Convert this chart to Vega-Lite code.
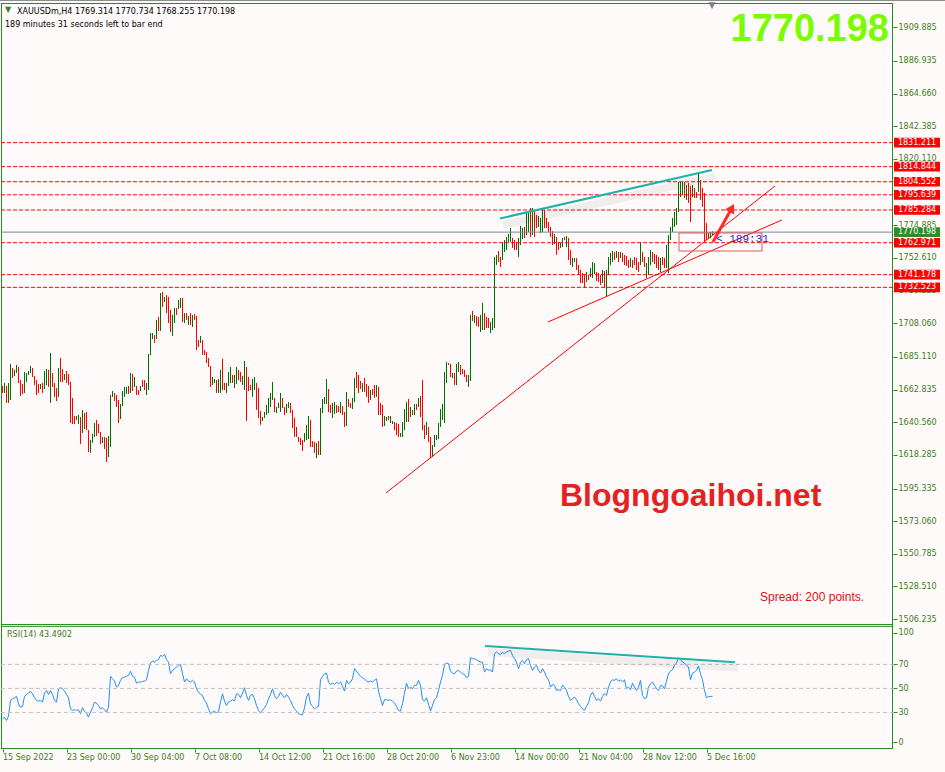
{
"$schema": "https://vega.github.io/schema/vega-lite/v6.json",
"width": 892,
"height": 746,
"autosize": {"type": "none"},
"padding": {"left": 1, "top": 3, "right": 52, "bottom": 23},
"background": "#fffafa",
"config": {"view": {"stroke": null}},
"datasets": {
"bars": [
{"i":1,"h":1665.3,"l":1660.5,"d":"d","r":24.7},
{"i":2,"h":1667.3,"l":1660.5,"d":"u","r":26},
{"i":3,"h":1665.3,"l":1653.7,"d":"d","r":23.3},
{"i":4,"h":1667.3,"l":1653.7,"d":"u","r":27},
{"i":5,"h":1680.3,"l":1655.7,"d":"u","r":40},
{"i":6,"h":1677.5,"l":1670.7,"d":"d","r":41.4},
{"i":7,"h":1676.2,"l":1672.1,"d":"u","r":42.2},
{"i":8,"h":1679.6,"l":1674.1,"d":"u","r":43.3},
{"i":9,"h":1678.2,"l":1667.3,"d":"d","r":37.2},
{"i":10,"h":1669.3,"l":1658.4,"d":"d","r":34.4},
{"i":11,"h":1666.6,"l":1659.8,"d":"d","r":35},
{"i":12,"h":1674.8,"l":1660.5,"d":"u","r":43.3},
{"i":13,"h":1674.1,"l":1668.0,"d":"u","r":45},
{"i":14,"h":1675.5,"l":1672.8,"d":"u","r":46.1},
{"i":15,"h":1678.9,"l":1674.1,"d":"u","r":47.5},
{"i":16,"h":1677.5,"l":1671.4,"d":"d","r":45.6},
{"i":17,"h":1672.1,"l":1665.9,"d":"d","r":42.2},
{"i":18,"h":1669.3,"l":1659.1,"d":"d","r":40},
{"i":19,"h":1666.6,"l":1660.5,"d":"d","r":39.4},
{"i":20,"h":1666.6,"l":1663.2,"d":"u","r":40},
{"i":21,"h":1667.3,"l":1660.5,"d":"d","r":38.6},
{"i":22,"h":1675.5,"l":1663.2,"d":"u","r":46.1},
{"i":23,"h":1676.8,"l":1665.9,"d":"u","r":48.3},
{"i":24,"h":1676.2,"l":1664.6,"d":"d","r":45},
{"i":25,"h":1687.8,"l":1653.7,"d":"u","r":48.3},
{"i":26,"h":1674.1,"l":1664.6,"d":"d","r":45},
{"i":27,"h":1667.3,"l":1657.8,"d":"d","r":40},
{"i":28,"h":1663.9,"l":1655.0,"d":"d","r":38.6},
{"i":29,"h":1677.5,"l":1657.8,"d":"u","r":49.7},
{"i":30,"h":1684.3,"l":1668.0,"d":"d","r":50.6},
{"i":31,"h":1676.8,"l":1668.0,"d":"d","r":49.7},
{"i":32,"h":1673.4,"l":1669.3,"d":"u","r":47.8},
{"i":33,"h":1675.5,"l":1667.3,"d":"d","r":45},
{"i":34,"h":1673.4,"l":1665.9,"d":"d","r":42.2},
{"i":35,"h":1668.0,"l":1640.0,"d":"d","r":33},
{"i":36,"h":1657.1,"l":1639.3,"d":"d","r":31.7},
{"i":37,"h":1644.8,"l":1639.3,"d":"d","r":32.2},
{"i":38,"h":1644.8,"l":1642.1,"d":"u","r":31.7},
{"i":39,"h":1645.5,"l":1639.3,"d":"u","r":32.2},
{"i":40,"h":1644.1,"l":1625.7,"d":"d","r":28.9},
{"i":41,"h":1648.9,"l":1633.2,"d":"u","r":33.9},
{"i":42,"h":1646.8,"l":1635.9,"d":"d","r":31.1},
{"i":43,"h":1647.5,"l":1635.2,"d":"d","r":29.4},
{"i":44,"h":1635.2,"l":1620.2,"d":"d","r":26.1},
{"i":45,"h":1628.4,"l":1619.6,"d":"u","r":30.3},
{"i":46,"h":1632.5,"l":1626.4,"d":"u","r":33.9},
{"i":47,"h":1640.0,"l":1630.5,"d":"u","r":38.6},
{"i":48,"h":1642.1,"l":1631.2,"d":"d","r":37.8},
{"i":49,"h":1639.3,"l":1633.2,"d":"d","r":35.8},
{"i":50,"h":1633.9,"l":1625.7,"d":"d","r":33},
{"i":51,"h":1630.5,"l":1626.4,"d":"u","r":33.9},
{"i":52,"h":1630.5,"l":1622.3,"d":"d","r":32.2},
{"i":53,"h":1629.8,"l":1613.4,"d":"d","r":30.3},
{"i":54,"h":1631.2,"l":1616.8,"d":"u","r":34.4},
{"i":55,"h":1659.1,"l":1623.6,"d":"u","r":60},
{"i":56,"h":1661.8,"l":1657.8,"d":"u","r":58},
{"i":57,"h":1660.5,"l":1655.0,"d":"d","r":56.1},
{"i":58,"h":1659.1,"l":1650.9,"d":"d","r":51.1},
{"i":59,"h":1655.7,"l":1640.0,"d":"d","r":52.5},
{"i":60,"h":1653.0,"l":1642.7,"d":"u","r":56.7},
{"i":61,"h":1661.8,"l":1651.6,"d":"u","r":58.9},
{"i":62,"h":1664.6,"l":1657.8,"d":"u","r":59.4},
{"i":63,"h":1664.6,"l":1659.8,"d":"u","r":60},
{"i":64,"h":1665.3,"l":1659.8,"d":"d","r":60.8},
{"i":65,"h":1674.1,"l":1660.5,"d":"u","r":64.4},
{"i":66,"h":1673.4,"l":1661.8,"d":"d","r":60},
{"i":67,"h":1671.4,"l":1664.6,"d":"u","r":59.4},
{"i":68,"h":1665.3,"l":1659.1,"d":"d","r":54.4},
{"i":69,"h":1662.5,"l":1659.1,"d":"d","r":55.3},
{"i":70,"h":1665.3,"l":1661.8,"d":"u","r":55.3},
{"i":71,"h":1669.3,"l":1664.6,"d":"d","r":55.8},
{"i":72,"h":1669.3,"l":1662.5,"d":"d","r":56.1},
{"i":73,"h":1667.3,"l":1659.1,"d":"u","r":57.2},
{"i":74,"h":1687.1,"l":1662.5,"d":"u","r":65},
{"i":75,"h":1701.4,"l":1686.4,"d":"u","r":71.1},
{"i":76,"h":1701.4,"l":1697.3,"d":"u","r":72.8},
{"i":77,"h":1700.0,"l":1694.6,"d":"d","r":71.9},
{"i":78,"h":1710.3,"l":1697.3,"d":"u","r":73.3},
{"i":79,"h":1712.3,"l":1702.8,"d":"d","r":73.9},
{"i":80,"h":1728.7,"l":1702.8,"d":"u","r":77.5},
{"i":81,"h":1729.4,"l":1719.1,"d":"d","r":76.7},
{"i":82,"h":1726.0,"l":1722.5,"d":"u","r":78.3},
{"i":83,"h":1727.3,"l":1715.0,"d":"d","r":73.9},
{"i":84,"h":1726.0,"l":1708.2,"d":"d","r":71.9},
{"i":85,"h":1717.1,"l":1702.1,"d":"d","r":62.2},
{"i":86,"h":1713.7,"l":1699.4,"d":"u","r":65},
{"i":87,"h":1718.4,"l":1708.2,"d":"u","r":66.4},
{"i":88,"h":1718.4,"l":1713.7,"d":"d","r":67.8},
{"i":89,"h":1723.9,"l":1717.8,"d":"u","r":69.2},
{"i":90,"h":1725.3,"l":1718.4,"d":"u","r":70},
{"i":91,"h":1725.3,"l":1708.9,"d":"d","r":62.2},
{"i":92,"h":1715.0,"l":1708.2,"d":"u","r":55.3},
{"i":93,"h":1715.0,"l":1710.3,"d":"d","r":58},
{"i":94,"h":1713.0,"l":1706.9,"d":"u","r":56.1},
{"i":95,"h":1715.0,"l":1706.9,"d":"d","r":55.3},
{"i":96,"h":1713.7,"l":1705.5,"d":"u","r":56.7},
{"i":97,"h":1714.3,"l":1710.3,"d":"d","r":55.3},
{"i":98,"h":1713.0,"l":1689.8,"d":"d","r":49.7},
{"i":99,"h":1696.6,"l":1691.9,"d":"d","r":46.9},
{"i":100,"h":1699.4,"l":1694.6,"d":"u","r":45},
{"i":101,"h":1696.6,"l":1686.4,"d":"d","r":44.2},
{"i":102,"h":1689.8,"l":1686.4,"d":"d","r":40},
{"i":103,"h":1688.4,"l":1680.9,"d":"d","r":37.8},
{"i":104,"h":1684.3,"l":1678.2,"d":"d","r":33},
{"i":105,"h":1678.9,"l":1664.6,"d":"d","r":28.9},
{"i":106,"h":1671.4,"l":1665.9,"d":"u","r":30.3},
{"i":107,"h":1670.0,"l":1667.3,"d":"u","r":31.1},
{"i":108,"h":1669.3,"l":1660.5,"d":"d","r":29.4},
{"i":109,"h":1670.0,"l":1660.5,"d":"u","r":31.1},
{"i":110,"h":1676.2,"l":1660.5,"d":"u","r":38.6},
{"i":111,"h":1683.7,"l":1662.5,"d":"d","r":45.6},
{"i":112,"h":1667.3,"l":1662.5,"d":"d","r":39.4},
{"i":113,"h":1667.3,"l":1660.5,"d":"u","r":35.8},
{"i":114,"h":1674.8,"l":1665.3,"d":"u","r":38.6},
{"i":115,"h":1678.2,"l":1667.3,"d":"u","r":39.4},
{"i":116,"h":1672.8,"l":1667.3,"d":"d","r":40.6},
{"i":117,"h":1672.8,"l":1663.9,"d":"u","r":39.4},
{"i":118,"h":1678.2,"l":1666.6,"d":"u","r":45.6},
{"i":119,"h":1676.2,"l":1669.3,"d":"d","r":45},
{"i":120,"h":1674.8,"l":1668.0,"d":"d","r":42.2},
{"i":121,"h":1672.1,"l":1665.9,"d":"u","r":46.1},
{"i":122,"h":1682.3,"l":1662.5,"d":"u","r":50.6},
{"i":123,"h":1678.2,"l":1641.4,"d":"d","r":44.2},
{"i":124,"h":1671.4,"l":1661.8,"d":"d","r":40},
{"i":125,"h":1665.9,"l":1662.5,"d":"d","r":44.2},
{"i":126,"h":1670.0,"l":1657.8,"d":"u","r":45},
{"i":127,"h":1671.4,"l":1662.5,"d":"u","r":41.4},
{"i":128,"h":1667.3,"l":1648.9,"d":"d","r":35.8},
{"i":129,"h":1663.9,"l":1643.4,"d":"d","r":31.7},
{"i":130,"h":1648.2,"l":1638.7,"d":"d","r":29.4},
{"i":131,"h":1644.1,"l":1641.4,"d":"u","r":31.7},
{"i":132,"h":1647.5,"l":1643.4,"d":"u","r":33.9},
{"i":133,"h":1652.3,"l":1645.5,"d":"u","r":36.7},
{"i":134,"h":1657.1,"l":1646.8,"d":"u","r":41.4},
{"i":135,"h":1660.5,"l":1650.9,"d":"u","r":45},
{"i":136,"h":1668.0,"l":1655.7,"d":"u","r":49.7},
{"i":137,"h":1657.1,"l":1647.5,"d":"d","r":44.2},
{"i":138,"h":1650.9,"l":1646.8,"d":"u","r":41.4},
{"i":139,"h":1653.7,"l":1650.2,"d":"u","r":43.3},
{"i":140,"h":1660.5,"l":1647.5,"d":"u","r":46.9},
{"i":141,"h":1657.1,"l":1650.2,"d":"d","r":44.2},
{"i":142,"h":1650.9,"l":1645.5,"d":"d","r":42.2},
{"i":143,"h":1653.0,"l":1646.8,"d":"u","r":45},
{"i":144,"h":1654.3,"l":1650.2,"d":"u","r":42.8},
{"i":145,"h":1653.7,"l":1646.8,"d":"d","r":40},
{"i":146,"h":1648.9,"l":1636.6,"d":"d","r":35.8},
{"i":147,"h":1643.4,"l":1630.5,"d":"d","r":33},
{"i":148,"h":1637.3,"l":1630.5,"d":"d","r":31.1},
{"i":149,"h":1630.5,"l":1627.1,"d":"d","r":28.9},
{"i":150,"h":1629.8,"l":1625.0,"d":"d","r":28.3},
{"i":151,"h":1628.4,"l":1620.9,"d":"d","r":28},
{"i":152,"h":1633.2,"l":1627.1,"d":"u","r":33.9},
{"i":153,"h":1638.7,"l":1628.4,"d":"u","r":42.8},
{"i":154,"h":1644.8,"l":1629.1,"d":"u","r":46.1},
{"i":155,"h":1642.1,"l":1623.6,"d":"d","r":37.2},
{"i":156,"h":1627.7,"l":1623.6,"d":"d","r":35},
{"i":157,"h":1627.1,"l":1619.6,"d":"d","r":33},
{"i":158,"h":1626.4,"l":1616.1,"d":"u","r":34.4},
{"i":159,"h":1627.7,"l":1618.2,"d":"d","r":35},
{"i":160,"h":1650.2,"l":1618.2,"d":"u","r":57.2},
{"i":161,"h":1656.4,"l":1646.8,"d":"u","r":60},
{"i":162,"h":1657.8,"l":1653.0,"d":"u","r":62.2},
{"i":163,"h":1670.0,"l":1653.0,"d":"u","r":62.8},
{"i":164,"h":1663.2,"l":1647.5,"d":"d","r":55.3},
{"i":165,"h":1652.3,"l":1646.8,"d":"d","r":53.3},
{"i":166,"h":1653.7,"l":1643.4,"d":"u","r":54.4},
{"i":167,"h":1654.3,"l":1646.2,"d":"u","r":53.3},
{"i":168,"h":1652.3,"l":1646.8,"d":"d","r":55.3},
{"i":169,"h":1651.6,"l":1647.5,"d":"d","r":53.9},
{"i":170,"h":1654.3,"l":1646.8,"d":"u","r":55.3},
{"i":171,"h":1651.6,"l":1645.5,"d":"d","r":51.7},
{"i":172,"h":1647.5,"l":1637.3,"d":"d","r":47.8},
{"i":173,"h":1661.2,"l":1638.0,"d":"u","r":56.7},
{"i":174,"h":1656.4,"l":1650.9,"d":"d","r":53.9},
{"i":175,"h":1653.7,"l":1650.2,"d":"d","r":55.3},
{"i":176,"h":1657.1,"l":1649.6,"d":"u","r":58},
{"i":177,"h":1670.7,"l":1654.3,"d":"u","r":66.4},
{"i":178,"h":1674.8,"l":1663.9,"d":"d","r":64.4},
{"i":179,"h":1672.8,"l":1660.5,"d":"d","r":62.2},
{"i":180,"h":1668.7,"l":1663.2,"d":"d","r":60},
{"i":181,"h":1667.3,"l":1661.2,"d":"u","r":58.9},
{"i":182,"h":1670.7,"l":1661.2,"d":"d","r":58},
{"i":183,"h":1666.6,"l":1657.8,"d":"d","r":56.1},
{"i":184,"h":1665.3,"l":1653.7,"d":"d","r":55.3},
{"i":185,"h":1662.5,"l":1655.7,"d":"u","r":56.1},
{"i":186,"h":1663.2,"l":1659.1,"d":"d","r":55.3},
{"i":187,"h":1665.9,"l":1657.1,"d":"d","r":56.7},
{"i":188,"h":1665.9,"l":1657.8,"d":"u","r":58},
{"i":189,"h":1664.6,"l":1645.5,"d":"d","r":47.8},
{"i":190,"h":1653.7,"l":1645.5,"d":"d","r":41.4},
{"i":191,"h":1652.3,"l":1637.3,"d":"d","r":35.8},
{"i":192,"h":1644.8,"l":1638.0,"d":"u","r":40.6},
{"i":193,"h":1644.1,"l":1641.4,"d":"u","r":40.6},
{"i":194,"h":1644.8,"l":1642.1,"d":"d","r":40},
{"i":195,"h":1644.8,"l":1640.0,"d":"u","r":40.6},
{"i":196,"h":1641.4,"l":1639.3,"d":"u","r":39.4},
{"i":197,"h":1640.7,"l":1635.2,"d":"d","r":37.8},
{"i":198,"h":1640.0,"l":1631.8,"d":"d","r":35},
{"i":199,"h":1639.3,"l":1630.5,"d":"d","r":31.7},
{"i":200,"h":1633.2,"l":1630.5,"d":"u","r":31.1},
{"i":201,"h":1640.7,"l":1630.5,"d":"u","r":37.2},
{"i":202,"h":1649.6,"l":1635.2,"d":"u","r":46.1},
{"i":203,"h":1654.3,"l":1640.7,"d":"u","r":54.4},
{"i":204,"h":1656.4,"l":1640.7,"d":"d","r":49.7},
{"i":205,"h":1650.9,"l":1644.1,"d":"u","r":51.1},
{"i":206,"h":1648.9,"l":1645.5,"d":"d","r":49.7},
{"i":207,"h":1653.0,"l":1645.5,"d":"u","r":52.5},
{"i":208,"h":1653.0,"l":1648.9,"d":"d","r":52.5},
{"i":209,"h":1657.1,"l":1650.9,"d":"u","r":56.7},
{"i":210,"h":1658.4,"l":1644.1,"d":"d","r":52.5},
{"i":211,"h":1669.3,"l":1635.2,"d":"d","r":40.6},
{"i":212,"h":1638.7,"l":1629.1,"d":"d","r":39.4},
{"i":213,"h":1640.7,"l":1631.8,"d":"u","r":42.2},
{"i":214,"h":1637.3,"l":1627.1,"d":"d","r":36.7},
{"i":215,"h":1630.5,"l":1616.1,"d":"d","r":31.1},
{"i":216,"h":1625.0,"l":1616.8,"d":"u","r":35.8},
{"i":217,"h":1631.8,"l":1623.6,"d":"u","r":40.6},
{"i":218,"h":1631.8,"l":1628.4,"d":"u","r":42.2},
{"i":219,"h":1640.0,"l":1629.1,"d":"u","r":48.3},
{"i":220,"h":1649.6,"l":1637.3,"d":"u","r":55.3},
{"i":221,"h":1653.0,"l":1642.1,"d":"u","r":60.8},
{"i":222,"h":1674.8,"l":1640.0,"d":"u","r":70},
{"i":223,"h":1681.6,"l":1667.3,"d":"u","r":71.1},
{"i":224,"h":1680.9,"l":1679.6,"d":"u","r":70.6},
{"i":225,"h":1680.3,"l":1671.4,"d":"d","r":64.4},
{"i":226,"h":1674.1,"l":1670.7,"d":"u","r":62.8},
{"i":227,"h":1674.1,"l":1665.9,"d":"d","r":62.2},
{"i":228,"h":1680.3,"l":1665.9,"d":"u","r":64.4},
{"i":229,"h":1681.6,"l":1674.8,"d":"u","r":65},
{"i":230,"h":1679.6,"l":1672.8,"d":"d","r":63.6},
{"i":231,"h":1676.8,"l":1673.4,"d":"d","r":62.2},
{"i":232,"h":1676.2,"l":1671.4,"d":"d","r":61.7},
{"i":233,"h":1672.8,"l":1668.0,"d":"d","r":58.9},
{"i":234,"h":1672.8,"l":1664.6,"d":"u","r":60},
{"i":235,"h":1713.7,"l":1668.7,"d":"u","r":75.6},
{"i":236,"h":1716.4,"l":1709.6,"d":"d","r":74.7},
{"i":237,"h":1713.7,"l":1708.2,"d":"u","r":74.7},
{"i":238,"h":1713.0,"l":1706.2,"d":"d","r":73.9},
{"i":239,"h":1712.3,"l":1705.5,"d":"d","r":72.8},
{"i":240,"h":1713.7,"l":1702.1,"d":"u","r":71.9},
{"i":241,"h":1721.9,"l":1703.4,"d":"u","r":71.9},
{"i":242,"h":1715.0,"l":1703.4,"d":"d","r":63.6},
{"i":243,"h":1712.3,"l":1704.8,"d":"d","r":66.4},
{"i":244,"h":1711.6,"l":1704.8,"d":"d","r":65},
{"i":245,"h":1708.9,"l":1701.4,"d":"u","r":65.6},
{"i":246,"h":1711.6,"l":1703.4,"d":"u","r":63.6},
{"i":247,"h":1753.2,"l":1704.8,"d":"u","r":78.9},
{"i":248,"h":1754.6,"l":1747.8,"d":"u","r":80.3},
{"i":249,"h":1757.3,"l":1749.8,"d":"d","r":78.9},
{"i":250,"h":1753.2,"l":1746.4,"d":"d","r":78.1},
{"i":251,"h":1763.5,"l":1751.2,"d":"u","r":80},
{"i":252,"h":1764.8,"l":1756.6,"d":"u","r":78.9},
{"i":253,"h":1766.9,"l":1758.0,"d":"u","r":80.3},
{"i":254,"h":1768.9,"l":1763.5,"d":"u","r":81.1},
{"i":255,"h":1773.0,"l":1763.5,"d":"u","r":81.7},
{"i":256,"h":1766.2,"l":1759.4,"d":"d","r":77.5},
{"i":257,"h":1764.8,"l":1758.0,"d":"d","r":74.7},
{"i":258,"h":1763.5,"l":1758.0,"d":"d","r":71.9},
{"i":259,"h":1766.2,"l":1753.2,"d":"u","r":66.4},
{"i":260,"h":1774.4,"l":1761.4,"d":"u","r":71.9},
{"i":261,"h":1773.0,"l":1765.5,"d":"u","r":73.3},
{"i":262,"h":1773.7,"l":1766.2,"d":"d","r":70.6},
{"i":263,"h":1783.9,"l":1768.2,"d":"u","r":73.9},
{"i":264,"h":1783.9,"l":1770.3,"d":"u","r":74.7},
{"i":265,"h":1786.6,"l":1766.9,"d":"d","r":69.2},
{"i":266,"h":1786.6,"l":1768.2,"d":"u","r":65},
{"i":267,"h":1784.6,"l":1766.9,"d":"d","r":67.8},
{"i":268,"h":1781.9,"l":1773.0,"d":"d","r":69.2},
{"i":269,"h":1781.2,"l":1773.7,"d":"u","r":65},
{"i":270,"h":1779.8,"l":1769.6,"d":"u","r":62.8},
{"i":271,"h":1786.0,"l":1770.3,"d":"u","r":66.4},
{"i":272,"h":1785.3,"l":1773.0,"d":"d","r":63.6},
{"i":273,"h":1779.8,"l":1773.0,"d":"d","r":59.4},
{"i":274,"h":1777.1,"l":1770.3,"d":"d","r":57.2},
{"i":275,"h":1773.7,"l":1766.9,"d":"d","r":51.1},
{"i":276,"h":1770.9,"l":1761.4,"d":"d","r":53.3},
{"i":277,"h":1768.9,"l":1762.1,"d":"u","r":52.5},
{"i":278,"h":1766.9,"l":1754.6,"d":"d","r":48.3},
{"i":279,"h":1763.5,"l":1758.0,"d":"d","r":48.9},
{"i":280,"h":1762.8,"l":1759.4,"d":"u","r":48.3},
{"i":281,"h":1766.2,"l":1760.0,"d":"u","r":52.5},
{"i":282,"h":1766.9,"l":1764.8,"d":"d","r":51.1},
{"i":283,"h":1767.5,"l":1760.0,"d":"u","r":48.3},
{"i":284,"h":1766.2,"l":1751.2,"d":"d","r":43.3},
{"i":285,"h":1758.0,"l":1747.8,"d":"d","r":40},
{"i":286,"h":1752.5,"l":1746.4,"d":"u","r":41.4},
{"i":287,"h":1752.5,"l":1749.8,"d":"u","r":42.8},
{"i":288,"h":1752.5,"l":1744.4,"d":"d","r":40.6},
{"i":289,"h":1747.8,"l":1741.0,"d":"d","r":37.2},
{"i":290,"h":1744.4,"l":1735.5,"d":"d","r":35},
{"i":291,"h":1742.3,"l":1735.5,"d":"d","r":33},
{"i":292,"h":1741.0,"l":1732.1,"d":"d","r":31.7},
{"i":293,"h":1743.0,"l":1736.2,"d":"u","r":35},
{"i":294,"h":1741.0,"l":1737.5,"d":"d","r":38},
{"i":295,"h":1745.7,"l":1739.6,"d":"u","r":44.2},
{"i":296,"h":1749.8,"l":1738.9,"d":"u","r":46.9},
{"i":297,"h":1749.1,"l":1741.6,"d":"u","r":43.3},
{"i":298,"h":1743.0,"l":1736.9,"d":"d","r":40},
{"i":299,"h":1742.3,"l":1736.2,"d":"d","r":41.4},
{"i":300,"h":1741.0,"l":1734.1,"d":"d","r":39.4},
{"i":301,"h":1744.4,"l":1735.5,"d":"u","r":43.3},
{"i":302,"h":1743.7,"l":1732.1,"d":"d","r":45.6},
{"i":303,"h":1744.4,"l":1726.0,"d":"u","r":44.2},
{"i":304,"h":1753.2,"l":1741.0,"d":"u","r":51.1},
{"i":305,"h":1756.0,"l":1747.8,"d":"u","r":55.3},
{"i":306,"h":1757.3,"l":1749.8,"d":"u","r":57.2},
{"i":307,"h":1756.6,"l":1751.2,"d":"d","r":56.7},
{"i":308,"h":1757.3,"l":1752.5,"d":"u","r":58},
{"i":309,"h":1756.6,"l":1749.8,"d":"d","r":56.1},
{"i":310,"h":1756.6,"l":1752.5,"d":"u","r":57.2},
{"i":311,"h":1756.0,"l":1749.8,"d":"d","r":55.3},
{"i":312,"h":1754.6,"l":1747.8,"d":"d","r":57.2},
{"i":313,"h":1753.9,"l":1747.1,"d":"d","r":49.7},
{"i":314,"h":1751.2,"l":1745.7,"d":"d","r":51.1},
{"i":315,"h":1752.5,"l":1746.4,"d":"u","r":48.9},
{"i":316,"h":1751.2,"l":1745.7,"d":"d","r":54.4},
{"i":317,"h":1753.2,"l":1747.8,"d":"d","r":51.1},
{"i":318,"h":1752.5,"l":1744.4,"d":"d","r":48.3},
{"i":319,"h":1749.8,"l":1743.0,"d":"d","r":51.1},
{"i":320,"h":1763.5,"l":1747.8,"d":"u","r":56.7},
{"i":321,"h":1756.6,"l":1749.8,"d":"d","r":44.2},
{"i":322,"h":1753.2,"l":1746.4,"d":"d","r":41.4},
{"i":323,"h":1749.1,"l":1738.9,"d":"u","r":42.2},
{"i":324,"h":1753.2,"l":1741.0,"d":"u","r":51.1},
{"i":325,"h":1758.0,"l":1747.8,"d":"u","r":53.9},
{"i":326,"h":1756.6,"l":1749.8,"d":"d","r":55.3},
{"i":327,"h":1755.3,"l":1748.5,"d":"d","r":52.5},
{"i":328,"h":1754.6,"l":1745.7,"d":"d","r":49.7},
{"i":329,"h":1753.2,"l":1744.4,"d":"d","r":48.3},
{"i":330,"h":1752.5,"l":1743.0,"d":"u","r":52.5},
{"i":331,"h":1753.2,"l":1747.8,"d":"d","r":52},
{"i":332,"h":1752.5,"l":1745.7,"d":"d","r":49.7},
{"i":333,"h":1761.4,"l":1745.7,"d":"u","r":56},
{"i":334,"h":1768.2,"l":1742.3,"d":"u","r":62.2},
{"i":335,"h":1773.7,"l":1764.8,"d":"u","r":64.4},
{"i":336,"h":1779.8,"l":1770.3,"d":"u","r":65.6},
{"i":337,"h":1783.9,"l":1773.7,"d":"u","r":69.2},
{"i":338,"h":1786.6,"l":1775.1,"d":"u","r":71.1},
{"i":339,"h":1804.4,"l":1783.9,"d":"u","r":75.6},
{"i":340,"h":1804.4,"l":1794.1,"d":"u","r":73.9},
{"i":341,"h":1804.4,"l":1795.5,"d":"u","r":71.9},
{"i":342,"h":1804.4,"l":1793.5,"d":"d","r":71.1},
{"i":343,"h":1802.3,"l":1792.1,"d":"u","r":69.2},
{"i":344,"h":1803.7,"l":1790.1,"d":"d","r":67.8},
{"i":345,"h":1801.7,"l":1777.1,"d":"d","r":57.2},
{"i":346,"h":1802.3,"l":1794.1,"d":"u","r":62.8},
{"i":347,"h":1800.3,"l":1793.5,"d":"d","r":63.6},
{"i":348,"h":1797.6,"l":1793.5,"d":"d","r":65},
{"i":349,"h":1810.5,"l":1797.6,"d":"u","r":68.6},
{"i":350,"h":1805.7,"l":1792.1,"d":"d","r":62.2},
{"i":351,"h":1800.3,"l":1787.3,"d":"d","r":57.2},
{"i":352,"h":1796.9,"l":1763.5,"d":"d","r":48.3},
{"i":353,"h":1776.4,"l":1764.8,"d":"d","r":42.2},
{"i":354,"h":1769.6,"l":1766.2,"d":"u","r":43.3},
{"i":355,"h":1770.3,"l":1766.2,"d":"u","r":43.3},
{"i":356,"h":1770.734,"l":1768.255,"d":"u","r":43.49}
],
"tags": [
{"p":1831.211,"k":"lvl"},{"p":1814.844,"k":"lvl"},{"p":1804.552,"k":"lvl"},{"p":1795.639,"k":"lvl"},
{"p":1785.284,"k":"lvl"},{"p":1762.971,"k":"lvl"},{"p":1741.178,"k":"lvl"},{"p":1732.523,"k":"lvl"},
{"p":1770.198,"k":"bid"}
]
},
"resolve": {"scale": {"y": "independent"}},
"layer": [
{
"layer": [
{"data": {"name": "bars"},
 "mark": {"type": "rule", "strokeWidth": 1},
 "encoding": {
  "x": {"field": "i", "type": "quantitative", "scale": {"domain": [0.25, 446.25], "nice": false, "zero": false},
   "axis": {"orient": "bottom", "title": null, "zindex": 0, "values": [1, 33, 65, 97, 129, 161, 193, 225, 257, 289, 321, 353],
    "labelExpr": "['15 Sep 2022','23 Sep 00:00','30 Sep 04:00','7 Oct 08:00','14 Oct 12:00','21 Oct 16:00','28 Oct 20:00','6 Nov 23:00','14 Nov 00:00','21 Nov 04:00','28 Nov 12:00','5 Dec 16:00'][round((datum.value-1)/32)]",
    "labelAlign": "left", "labelFlush": false, "labelOverlap": false, "labelBound": false, "domain": false, "grid": false, "tickSize": 3, "tickColor": "#228b22", "labelColor": "#3b7d23", "labelFont": "DejaVu Sans", "labelFontSize": 8, "labelPadding": 1}},
  "y": {"field": "h", "type": "quantitative", "scale": {"domain": [1417.68, 1926.45], "nice": false, "zero": false},
   "axis": {"orient": "right", "title": null, "zindex": 0, "values": [1909.885, 1886.935, 1864.66, 1842.385, 1820.11, 1774.885, 1752.61, 1730.335, 1708.06, 1685.11, 1662.835, 1640.56, 1618.285, 1595.335, 1573.06, 1550.785, 1528.51, 1506.235],
    "format": ".3f", "domain": false, "grid": false, "tickSize": 4, "tickColor": "#228b22", "labelColor": "#3b7d23", "labelFont": "DejaVu Sans", "labelFontSize": 8, "labelPadding": 1, "labelOverlap": false, "labelFlush": false, "labelBound": false}},
  "y2": {"field": "l"},
  "color": {"condition": {"test": "datum.d == 'u'", "value": "#006e00"}, "value": "#ff0000"}}},
{"data": {"values": [{"p": 1928.16}]},
 "mark": {"type": "rule", "color": "#8c8c8c", "strokeWidth": 1},
 "encoding": {"x": {"datum": -0.25, "type": "quantitative"}, "x2": {"datum": 472.25}, "y": {"field": "p", "type": "quantitative"}}},
{"data": {"values": [{"x": 0.5}, {"x": 446}]},
 "mark": {"type": "rule", "color": "#228b22", "strokeWidth": 1},
 "encoding": {"x": {"field": "x", "type": "quantitative"}, "y": {"datum": 1926.45, "type": "quantitative"}, "y2": {"datum": 1417.68}}},
{"data": {"values": [{"p": 1926.11}, {"p": 1502.6}]},
 "mark": {"type": "rule", "color": "#228b22", "strokeWidth": 1},
 "encoding": {"x": {"datum": 0.25, "type": "quantitative"}, "x2": {"datum": 446.25}, "y": {"field": "p", "type": "quantitative"}}},
{"data": {"name": "tags"},
 "transform": [{"filter": "datum.k == 'lvl'"}],
 "mark": {"type": "rule", "color": "#ff0000", "strokeWidth": 1, "strokeDash": [4, 2]},
 "encoding": {"x": {"datum": 0.25, "type": "quantitative"}, "x2": {"datum": 446.25}, "y": {"field": "p", "type": "quantitative"}}},
{"data": {"name": "tags"},
 "transform": [{"filter": "datum.k == 'bid'"}],
 "mark": {"type": "rule", "color": "#778899", "strokeWidth": 1},
 "encoding": {"x": {"datum": 0.25, "type": "quantitative"}, "x2": {"datum": 446.25}, "y": {"field": "p", "type": "quantitative"}}},
{"data": {"values": [{"i": 251.25, "p": 1775.1}, {"i": 357.25, "p": 1807.8}]},
 "mark": {"type": "line", "color": "#000000", "strokeWidth": 8, "opacity": 0.05},
 "encoding": {"x": {"field": "i", "type": "quantitative"}, "y": {"field": "p", "type": "quantitative"}}},
{"data": {"values": [{"i": 249.75, "p": 1779.5}, {"i": 355.75, "p": 1812.6}]},
 "mark": {"type": "line", "color": "#20b2aa", "strokeWidth": 2},
 "encoding": {"x": {"field": "i", "type": "quantitative"}, "y": {"field": "p", "type": "quantitative"}}},
{"data": {"values": [{"g": "a", "i": 192.75, "p": 1592.3}, {"g": "a", "i": 387.25, "p": 1801.65}, {"g": "b", "i": 273.75, "p": 1708.9}, {"g": "b", "i": 390.75, "p": 1778.5}]},
 "mark": {"type": "line", "color": "#ff0000", "strokeWidth": 1},
 "encoding": {"x": {"field": "i", "type": "quantitative"}, "y": {"field": "p", "type": "quantitative"}, "detail": {"field": "g"}}},
{"data": {"values": [{"a": 1}]},
 "mark": {"type": "rect", "filled": false, "stroke": "#e05a5a", "strokeWidth": 1},
 "encoding": {"x": {"datum": 339.25, "type": "quantitative"}, "x2": {"datum": 380.75}, "y": {"datum": 1769.6, "type": "quantitative"}, "y2": {"datum": 1757.3}}},
{"data": {"values": [{"i": 357.75, "p": 1765.5, "t": "< 189:31"}]},
 "mark": {"type": "text", "align": "left", "baseline": "middle", "font": "Liberation Mono", "fontSize": 11, "color": "#2424dd"},
 "encoding": {"x": {"field": "i", "type": "quantitative"}, "y": {"field": "p", "type": "quantitative"}, "text": {"field": "t"}}},
{"data": {"values": [{"i": 356.25, "p": 1763.5}, {"i": 365.4, "p": 1786.0}]},
 "mark": {"type": "line", "color": "#ff2a2a", "strokeWidth": 3},
 "encoding": {"x": {"field": "i", "type": "quantitative"}, "y": {"field": "p", "type": "quantitative"}}},
{"data": {"values": [{"i": 365.65, "p": 1786.6}]},
 "mark": {"type": "point", "shape": "triangle-up", "filled": true, "size": 110, "color": "#ff2a2a", "opacity": 1, "angle": 29},
 "encoding": {"x": {"field": "i", "type": "quantitative"}, "y": {"field": "p", "type": "quantitative"}}},
{"data": {"name": "tags"},
 "mark": {"type": "point", "shape": "M-1,-0.21L1,-0.21L1,0.21L-1,0.21Z", "filled": true, "size": 2116, "opacity": 1, "strokeWidth": 0},
 "encoding": {"x": {"datum": 458.25, "type": "quantitative"}, "y": {"field": "p", "type": "quantitative"},
  "color": {"condition": {"test": "datum.k == 'bid'", "value": "#2e8b2e"}, "value": "#ff0000"}}},
{"data": {"name": "tags"},
 "mark": {"type": "text", "align": "center", "baseline": "middle", "font": "DejaVu Sans", "fontSize": 8, "color": "#ffffff"},
 "encoding": {"x": {"datum": 458.25, "type": "quantitative"}, "y": {"field": "p", "type": "quantitative"}, "text": {"field": "p", "format": ".3f"}}},
{"data": {"values": [{"i": 444.25, "p": 1900.2, "t": "1770.198"}]},
 "mark": {"type": "text", "align": "right", "baseline": "alphabetic", "font": "Liberation Sans", "fontWeight": "bold", "fontSize": 38, "color": "#7cfc00"},
 "encoding": {"x": {"field": "i", "type": "quantitative"}, "y": {"field": "p", "type": "quantitative"}, "text": {"field": "t"}}},
{"data": {"values": [{"i": 279.75, "p": 1583.4, "t": "Blogngoaihoi.net"}]},
 "mark": {"type": "text", "align": "left", "baseline": "alphabetic", "font": "Liberation Sans", "fontWeight": "bold", "fontSize": 32, "color": "#e52222"},
 "encoding": {"x": {"field": "i", "type": "quantitative"}, "y": {"field": "p", "type": "quantitative"}, "text": {"field": "t"}}},
{"data": {"values": [{"i": 379.75, "p": 1518.6, "t": "Spread: 200 points."}]},
 "mark": {"type": "text", "align": "left", "baseline": "alphabetic", "font": "Liberation Sans", "fontSize": 12, "color": "#e01010"},
 "encoding": {"x": {"field": "i", "type": "quantitative"}, "y": {"field": "p", "type": "quantitative"}, "text": {"field": "t"}}},
{"data": {"values": [{"i": 8.25, "p": 1918.95, "t": "XAUUSDm,H4  1769.314 1770.734 1768.255 1770.198"}, {"i": 2.25, "p": 1910.1, "t": "189 minutes 31 seconds left to bar end"}]},
 "mark": {"type": "text", "align": "left", "baseline": "alphabetic", "font": "DejaVu Sans", "fontSize": 8, "color": "#000000"},
 "encoding": {"x": {"field": "i", "type": "quantitative"}, "y": {"field": "p", "type": "quantitative"}, "text": {"field": "t"}}},
{"data": {"values": [{"i": 3.75, "p": 1921.7, "t": "▼"}]},
 "mark": {"type": "text", "align": "center", "baseline": "middle", "font": "DejaVu Sans", "fontSize": 8, "color": "#228b22"},
 "encoding": {"x": {"field": "i", "type": "quantitative"}, "y": {"field": "p", "type": "quantitative"}, "text": {"field": "t"}}},
{"data": {"values": [{"i": 355.75, "p": 1925.4, "t": "▼"}]},
 "mark": {"type": "text", "align": "center", "baseline": "middle", "font": "DejaVu Sans", "fontSize": 9, "color": "#808080"},
 "encoding": {"x": {"field": "i", "type": "quantitative"}, "y": {"field": "p", "type": "quantitative"}, "text": {"field": "t"}}}
]
},
{
"layer": [
{"data": {"name": "bars"},
 "mark": {"type": "line", "color": "#1e90ff", "strokeWidth": 1},
 "encoding": {
  "x": {"field": "i", "type": "quantitative", "scale": {"domain": [0.25, 446.25], "nice": false, "zero": false}},
  "y": {"field": "r", "type": "quantitative", "scale": {"domain": [-0.417, 620.417], "nice": false, "zero": false},
   "axis": {"orient": "right", "title": null, "zindex": 0, "values": [5.4, 30, 50, 70, 96.25], "labelExpr": "datum.value < 6 ? '0' : datum.value > 95 ? '100' : datum.label",
    "domain": false, "grid": false, "tickSize": 4, "tickColor": "#228b22", "labelColor": "#3b7d23", "labelFont": "DejaVu Sans", "labelFontSize": 8, "labelPadding": 1, "labelOverlap": false, "labelFlush": false, "labelBound": false}}}},
{"data": {"values": [{"r": 30}, {"r": 50}, {"r": 70}]},
 "mark": {"type": "rule", "color": "#c0c0c0", "strokeWidth": 1, "strokeDash": [4, 3]},
 "encoding": {"x": {"datum": 0.25, "type": "quantitative"}, "x2": {"datum": 446.25}, "y": {"field": "r", "type": "quantitative"}}},
{"data": {"values": [{"r": 101.667}, {"r": 0}]},
 "mark": {"type": "rule", "color": "#228b22", "strokeWidth": 1},
 "encoding": {"x": {"datum": 0.25, "type": "quantitative"}, "x2": {"datum": 446.25}, "y": {"field": "r", "type": "quantitative"}}},
{"data": {"values": [{"i": 243.75, "r": 80.4}, {"i": 368.75, "r": 67.1}]},
 "mark": {"type": "line", "color": "#000000", "strokeWidth": 8, "opacity": 0.05},
 "encoding": {"x": {"field": "i", "type": "quantitative"}, "y": {"field": "r", "type": "quantitative"}}},
{"data": {"values": [{"i": 242.25, "r": 85.4}, {"i": 367.25, "r": 71.7}]},
 "mark": {"type": "line", "color": "#20b2aa", "strokeWidth": 2},
 "encoding": {"x": {"field": "i", "type": "quantitative"}, "y": {"field": "r", "type": "quantitative"}}},
{"data": {"values": [{"i": 3.25, "r": 94.58, "t": "RSI(14) 43.4902"}]},
 "mark": {"type": "text", "align": "left", "baseline": "middle", "font": "DejaVu Sans", "fontSize": 8, "color": "#3b7d23"},
 "encoding": {"x": {"field": "i", "type": "quantitative"}, "y": {"field": "r", "type": "quantitative"}, "text": {"field": "t"}}}
]
}
]
}
